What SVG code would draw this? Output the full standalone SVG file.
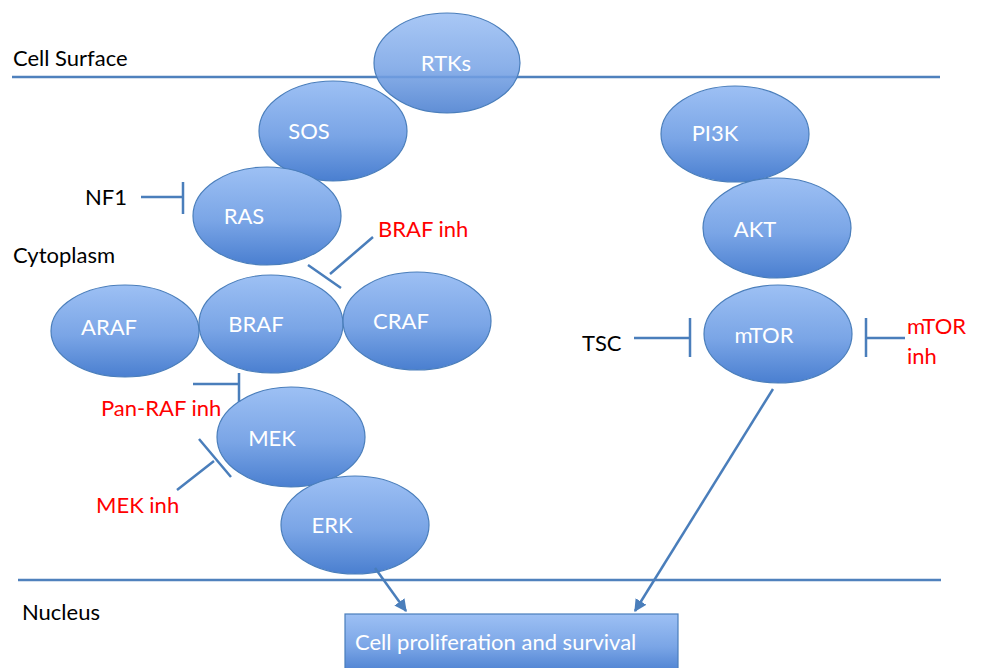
<svg xmlns="http://www.w3.org/2000/svg" width="981" height="668" viewBox="0 0 981 668">
<defs>
<linearGradient id="g" x1="0" y1="0" x2="0" y2="1">
<stop offset="0" stop-color="#9dc0f4"/>
<stop offset="0.55" stop-color="#7aa5e6"/>
<stop offset="1" stop-color="#4a7fd0"/>
</linearGradient>
<marker id="arr" viewBox="0 0 10 10" refX="9" refY="5" markerWidth="5" markerHeight="5" orient="auto" markerUnits="strokeWidth">
<path d="M0,0 L10,5 L0,10 z" fill="#4a7ebb"/>
</marker>
<style>
.node ellipse,.node rect{fill:url(#g);stroke:#4a7ebb;stroke-width:1.2}
.nt{font-family:"Lato","Open Sans",sans-serif;font-size:22px;fill:#ffffff;text-anchor:middle}
.lbl{font-family:"Lato","Open Sans",sans-serif;font-size:22px;fill:#000000}
.red{font-family:"Lato","Open Sans",sans-serif;font-size:22px;fill:#ff0000}
.ln{stroke:#4f81bd;stroke-width:2.5;fill:none}
.cn{stroke:#4a7ebb;stroke-width:2.5;fill:none}
</style>
</defs>
<rect width="981" height="668" fill="#ffffff"/>
<g id="membranes">
<line class="ln" x1="12" y1="77" x2="940" y2="77"/>
<line class="ln" x1="18" y1="580" x2="941" y2="580"/>
</g>
<g id="labels">
<text class="lbl" x="13" y="66">Cell Surface</text>
<text class="lbl" x="13" y="263">Cytoplasm</text>
<text class="lbl" x="22" y="620">Nucleus</text>
</g>
<g id="n-rtks" class="node"><ellipse cx="447" cy="63" rx="73" ry="50" style="fill-opacity:0.88"/><text class="nt" x="446" y="71">RTKs</text></g>
<g id="n-sos" class="node"><ellipse cx="333" cy="131" rx="74" ry="50"/><text class="nt" x="309" y="139">SOS</text></g>
<g id="n-ras" class="node"><ellipse cx="267" cy="216" rx="74" ry="49"/><text class="nt" x="244" y="224">RAS</text></g>
<g id="n-araf" class="node"><ellipse cx="125" cy="331" rx="74" ry="46"/><text class="nt" x="109" y="335">ARAF</text></g>
<g id="n-braf" class="node"><ellipse cx="271" cy="324" rx="72" ry="49"/><text class="nt" x="256" y="332">BRAF</text></g>
<g id="n-craf" class="node"><ellipse cx="417" cy="321" rx="74" ry="49"/><text class="nt" x="401" y="329">CRAF</text></g>
<g id="n-mek" class="node"><ellipse cx="291" cy="437" rx="74" ry="50"/><text class="nt" x="272" y="446">MEK</text></g>
<g id="n-erk" class="node"><ellipse cx="355" cy="525" rx="74" ry="49"/><text class="nt" x="332" y="533">ERK</text></g>
<g id="n-pi3k" class="node"><ellipse cx="735" cy="134" rx="74" ry="48"/><text class="nt" x="715" y="141">PI3K</text></g>
<g id="n-akt" class="node"><ellipse cx="777" cy="228" rx="74" ry="50"/><text class="nt" x="755" y="237">AKT</text></g>
<g id="n-mtor" class="node"><ellipse cx="778" cy="334" rx="74" ry="49"/><text class="nt" x="764" y="343">mTOR</text></g>
<g id="n-prolif" class="node"><rect x="345" y="614" width="333" height="60"/><text class="nt" x="355" y="650" style="text-anchor:start">Cell proliferation and survival</text></g>
<g id="inhibitor-labels">
<text class="lbl" x="85" y="205">NF1</text>
<text class="red" x="378" y="237">BRAF inh</text>
<text class="red" x="101" y="416">Pan-RAF inh</text>
<text class="red" x="96" y="513">MEK inh</text>
<text class="lbl" x="582" y="351">TSC</text>
<text class="red" x="907" y="334">mTOR</text>
<text class="red" x="907" y="364">inh</text>
</g>
<g id="connectors">
<path class="cn" d="M141,197 H183 M183,182 V214"/>
<path class="cn" d="M373,237 L330,274 M308,265 L341,288"/>
<path class="cn" d="M193,384 H239 M239,373 V402"/>
<path class="cn" d="M177,490 L214,461 M199,439 L231,477"/>
<path class="cn" d="M634,338 H690 M690,318 V357"/>
<path class="cn" d="M905,338 H866 M866,318 V357"/>
<line class="cn" x1="375" y1="568" x2="406" y2="611" marker-end="url(#arr)"/>
<line class="cn" x1="773" y1="389" x2="635" y2="611" marker-end="url(#arr)"/>
</g>
</svg>
